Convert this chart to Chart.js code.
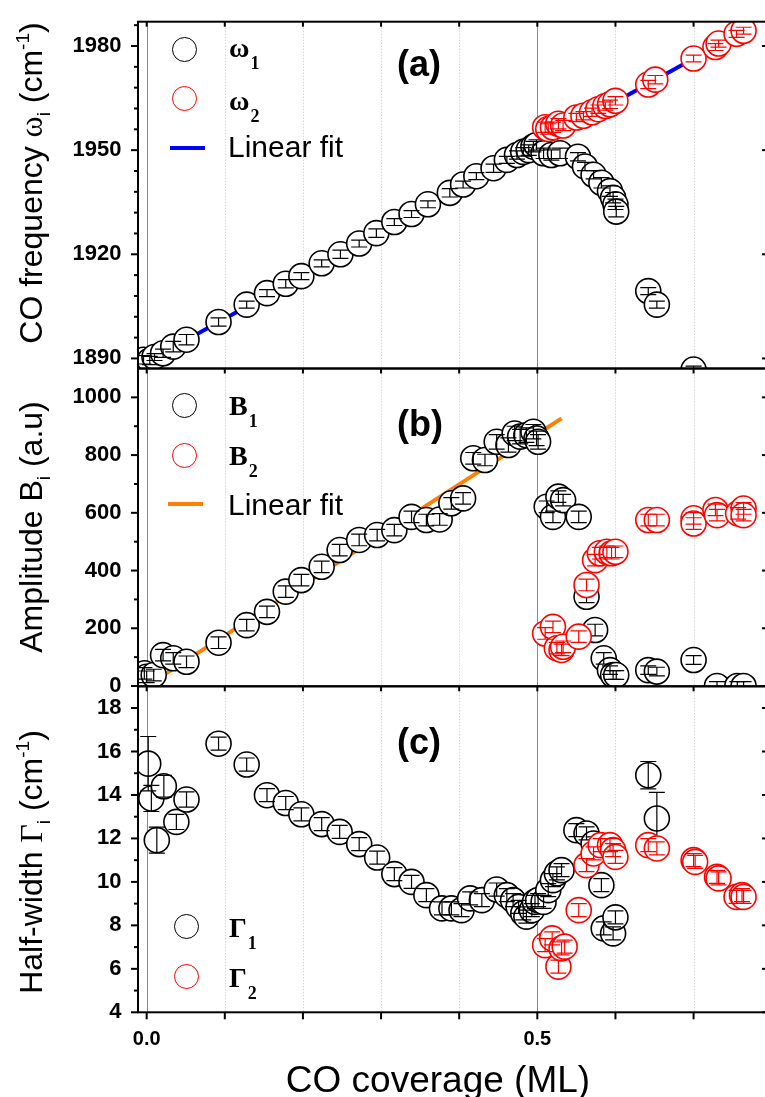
<!DOCTYPE html>
<html>
<head>
<meta charset="utf-8">
<script src="https://cdn.jsdelivr.net/npm/chart.js@4.4.1/dist/chart.umd.min.js"></script>
<style>
  body { margin: 0; background: #fff; overflow: hidden; }
  #wrap { position: relative; width: 765px; height: 1097px; overflow: hidden; }
  canvas { position: absolute; left: 0; top: 0; }
  .lbl { position: absolute; white-space: nowrap; line-height: 1; color: #000; z-index: 5;
         font-family: 'Liberation Sans', Arial, sans-serif; }
  .circ { position: absolute; width: 25px; height: 25px; box-sizing: border-box; border: 1.6px solid #000;
          border-radius: 50%; background: #fff; z-index: 5; }
  .circ.red { border-color: #ff0000; }
  .bar { position: absolute; height: 4px; width: 35px; z-index: 5; }
  .sym { font-family: 'Liberation Serif', 'DejaVu Serif', serif; font-weight: bold; font-size: 28px; }
  .sym .sb { font-size: 18px; position: relative; top: 12px; margin-left: 1px; }
  .big { font-size: 30px; }
  .panel { font-size: 36px; font-weight: bold; }
  .ytitle { font-size: 32px; transform: translate(-50%, -50%) rotate(-90deg); }
  .ytitle .g { font-family: 'Liberation Serif', 'DejaVu Serif', serif; }
  .ytitle .sb { font-size: 19px; position: relative; top: 8px; }
  .ytitle .sp { font-size: 19px; position: relative; top: -13px; }
  .xtitle { font-size: 37px; transform: translateX(-50%); }
</style>
</head>
<body>
<div id="wrap">
  <canvas id="chartA" width="768" height="1097"></canvas>
  <canvas id="chartB" width="768" height="1097"></canvas>
  <canvas id="chartC" width="768" height="1097"></canvas>

  <!-- panel (a) legend -->
  <div class="circ" style="left:172px;top:36.5px"></div>
  <div class="circ red" style="left:172px;top:86px"></div>
  <div class="bar" style="left:170px;top:146px;background:#0000ff"></div>
  <div class="lbl sym" style="left:229px;top:33.5px">ω<span class="sb">1</span></div>
  <div class="lbl sym" style="left:229px;top:86.5px">ω<span class="sb">2</span></div>
  <div class="lbl big" style="left:228px;top:131.5px">Linear fit</div>
  <div class="lbl panel" style="left:397px;top:45.5px">(a)</div>

  <!-- panel (b) legend -->
  <div class="circ" style="left:172px;top:392.5px"></div>
  <div class="circ red" style="left:172px;top:442.5px"></div>
  <div class="bar" style="left:168px;top:501.5px;background:#ff8000"></div>
  <div class="lbl sym" style="left:229px;top:391.5px">B<span class="sb">1</span></div>
  <div class="lbl sym" style="left:229px;top:441.5px">B<span class="sb">2</span></div>
  <div class="lbl big" style="left:228px;top:489.5px">Linear fit</div>
  <div class="lbl panel" style="left:397px;top:405.5px">(b)</div>

  <!-- panel (c) legend -->
  <div class="circ" style="left:174px;top:914px"></div>
  <div class="circ red" style="left:174px;top:964px"></div>
  <div class="lbl sym" style="left:229px;top:914px">Γ<span class="sb">1</span></div>
  <div class="lbl sym" style="left:229px;top:964px">Γ<span class="sb">2</span></div>
  <div class="lbl panel" style="left:397px;top:723.5px">(c)</div>

  <!-- axis titles -->
  <div class="lbl ytitle" style="left:31px;top:183px">CO frequency <span class="g">ω</span><span class="sb">i</span> (cm<span class="sp">-1</span>)</div>
  <div class="lbl ytitle" style="left:31px;top:527px">Amplitude B<span class="sb">i</span> (a.u)</div>
  <div class="lbl ytitle" style="left:31px;top:862px">Half-width <span class="g">Γ</span><span class="sb">i</span> (cm<span class="sp">-1</span>)</div>
  <div class="lbl xtitle" style="left:438px;top:1061px">CO coverage (ML)</div>
</div>

<script>
// shared x axis (CO coverage, ML)
const xTicks = [0, 0.1, 0.2, 0.3, 0.4, 0.5, 0.6, 0.7];
const xLabels = ['0.0', '', '', '', '', '0.5', '', ''];

// (a) CO frequency
const w1X = [-0.004, 0.004, 0.010, 0.021, 0.034, 0.051, 0.092, 0.128, 0.154, 0.178, 0.198, 0.224, 0.248, 0.272,
  0.294, 0.317, 0.339, 0.360, 0.388, 0.405, 0.422, 0.444, 0.461, 0.474, 0.482, 0.489, 0.495, 0.499,
  0.508, 0.518, 0.529, 0.552, 0.561, 0.572, 0.582, 0.593, 0.597, 0.600, 0.601, 0.642, 0.653, 0.700];
const w1Y = [1889.6, 1889.4, 1890.4, 1891.5, 1893.4, 1895.4, 1900.5, 1905.5, 1908.8, 1911.5, 1913.7, 1917.4, 1920.0, 1923.1,
  1926.1, 1929.3, 1931.6, 1934.4, 1937.7, 1940.1, 1942.5, 1944.8, 1947.2, 1948.6, 1949.5, 1950.0, 1951.0, 1951.5,
  1949.1, 1948.6, 1949.1, 1948.1, 1945.3, 1942.9, 1940.6, 1938.2, 1936.3, 1934.4, 1932.3, 1909.4, 1905.5, 1886.8];
const w1Err = [1.2, 1.2, 1.0, 1.2, 1.5, 1.5, 1.2, 1.0, 1.0, 1.2, 1.0, 1.0, 1.2, 1.0,
  1.2, 1.0, 1.0, 1.0, 1.2, 1.0, 1.0, 1.2, 1.0, 1.2, 1.2, 1.5, 1.5, 1.5,
  1.5, 1.5, 1.5, 1.2, 1.2, 1.2, 1.5, 1.5, 1.5, 1.5, 1.5, 1.0, 1.0, 1.0];
const w2X = [0.510, 0.514, 0.520, 0.527, 0.533, 0.550, 0.559, 0.570, 0.578, 0.587, 0.593, 0.600,
  0.642, 0.651, 0.700, 0.728, 0.732, 0.755, 0.764];
const w2Y = [1956.6, 1956.1, 1956.6, 1957.6, 1957.1, 1959.4, 1959.9, 1960.9, 1961.8, 1962.7, 1963.2, 1964.2,
  1968.9, 1970.3, 1976.4, 1979.7, 1980.7, 1983.5, 1984.4];
const w2Err = [1.5, 1.5, 1.5, 1.5, 1.5, 1.2, 1.2, 1.2, 1.2, 1.2, 1.2, 1.2, 1.2, 1.2, 1.0, 1.0, 1.0, 1.0, 1.0];
const fitAX = [0.0, 0.77];
const fitAY = [1889.0, 1985.1];
const freqMajor = [1890, 1920, 1950, 1980];

// (b) amplitude
const b1X = [-0.003, 0.000, 0.009, 0.021, 0.034, 0.051, 0.092, 0.128, 0.154, 0.178, 0.198, 0.224, 0.247, 0.272,
  0.295, 0.317, 0.339, 0.358, 0.375, 0.390, 0.405, 0.418, 0.433, 0.448, 0.463, 0.471, 0.478, 0.486,
  0.495, 0.499, 0.501, 0.512, 0.520, 0.527, 0.533, 0.553, 0.563, 0.574, 0.585, 0.593, 0.597, 0.601,
  0.642, 0.653, 0.700, 0.730, 0.756, 0.764];
const b1Y = [44, 32, 38, 107, 96, 84, 150, 211, 257, 327, 367, 413, 471, 506,
  523, 540, 586, 575, 577, 633, 650, 789, 783, 846, 835, 875, 864, 869,
  881, 858, 846, 621, 586, 656, 644, 586, 309, 194, 96, 55, 38, 38,
  55, 50, 90, 0, 0, 0];
const b1Err = [20, 20, 20, 20, 20, 20, 20, 20, 20, 20, 20, 20, 20, 20,
  20, 20, 20, 20, 20, 20, 20, 20, 20, 25, 25, 25, 25, 25,
  25, 25, 25, 20, 20, 20, 20, 20, 20, 20, 20, 15, 15, 15,
  15, 15, 15, 15, 15, 15];
const b2X = [0.510, 0.520, 0.525, 0.531, 0.533, 0.553, 0.563, 0.574, 0.580, 0.589, 0.595, 0.600,
  0.642, 0.653, 0.700, 0.700, 0.728, 0.730, 0.757, 0.764, 0.764];
const b2Y = [182, 205, 131, 125, 136, 171, 350, 436, 460, 465, 460, 465,
  575, 575, 581, 563, 610, 592, 598, 615, 592];
const b2Err = [20, 20, 20, 20, 20, 20, 20, 20, 20, 20, 20, 20, 20, 20, 20, 20, 20, 20, 20, 20, 20];
const fitBX = [0.010, 0.531];
const fitBY = [18, 927];
const ampMajor = [0, 200, 400, 600, 800, 1000];

// (c) half-width
const g1X = [0.002, 0.006, 0.013, 0.022, 0.038, 0.051, 0.092, 0.128, 0.154, 0.178, 0.198, 0.224, 0.247, 0.272,
  0.295, 0.317, 0.339, 0.358, 0.378, 0.390, 0.403, 0.414, 0.429, 0.448, 0.461, 0.469, 0.476, 0.482,
  0.486, 0.493, 0.497, 0.501, 0.508, 0.514, 0.520, 0.525, 0.531, 0.550, 0.563, 0.572, 0.582, 0.585,
  0.597, 0.600, 0.642, 0.653];
const g1Y = [15.44, 13.84, 11.92, 14.40, 12.76, 13.79, 16.36, 15.40, 13.99, 13.63, 13.11, 12.66, 12.30, 11.74,
  11.12, 10.36, 10.00, 9.39, 8.78, 8.78, 8.70, 9.24, 9.16, 9.65, 9.39, 9.16, 8.85, 8.55,
  8.40, 8.70, 9.08, 9.16, 9.08, 9.62, 10.08, 10.39, 10.54, 12.38, 12.23, 11.77, 9.85, 7.86,
  7.63, 8.37, 14.91, 12.92];
const g1Err = [1.25, 0.6, 0.6, 0.5, 0.35, 0.35, 0.3, 0.3, 0.3, 0.3, 0.3, 0.3, 0.3, 0.3,
  0.3, 0.3, 0.3, 0.3, 0.3, 0.3, 0.3, 0.3, 0.3, 0.3, 0.3, 0.3, 0.3, 0.3,
  0.3, 0.3, 0.3, 0.3, 0.3, 0.3, 0.3, 0.3, 0.3, 0.3, 0.3, 0.3, 0.3, 0.3,
  0.3, 0.3, 0.63, 1.2];
const g2X = [0.510, 0.519, 0.527, 0.531, 0.535, 0.553, 0.563, 0.572, 0.581, 0.593, 0.597, 0.600,
  0.642, 0.653, 0.700, 0.702, 0.730, 0.732, 0.755, 0.762, 0.764];
const g2Y = [7.09, 7.40, 6.10, 6.94, 7.02, 8.70, 10.77, 11.31, 11.69, 11.69, 11.46, 11.15,
  11.69, 11.54, 11.00, 10.92, 10.23, 10.16, 9.31, 9.39, 9.31];
const g2Err = [0.3, 0.3, 0.3, 0.3, 0.3, 0.3, 0.3, 0.3, 0.3, 0.3, 0.3, 0.3, 0.3, 0.3, 0.3, 0.3, 0.3, 0.3, 0.3, 0.3, 0.3];
const widthMajor = [4, 6, 8, 10, 12, 14, 16, 18];

const FONT = "'Liberation Sans', Arial, sans-serif";
const pts = (xs, ys) => xs.map((v, i) => ({ x: v, y: ys[i] }));

function minorTicks(majors, step, top) {
  const out = [];
  for (let v = majors[0]; v <= top + 1e-9; v += step) out.push(Math.round(v * 1000) / 1000);
  return out;
}

// dotted grid, frame and Origin-style ticks
const frame = {
  id: 'frame',
  beforeDatasetsDraw(chart) {
    const { ctx, chartArea: a, scales: { x } } = chart;
    ctx.save();
    ctx.lineWidth = 1;
    xTicks.forEach(v => {
      const px = Math.round(x.getPixelForValue(v)) + 0.5;
      const solid = v === 0 || v === 0.5;
      ctx.setLineDash(solid ? [] : [1, 2]);
      ctx.strokeStyle = solid ? '#8a8a8a' : '#c4c4c4';
      ctx.beginPath();
      ctx.moveTo(px, a.top);
      ctx.lineTo(px, a.bottom);
      ctx.stroke();
    });
    ctx.restore();
  },
  afterDraw(chart, args, opts) {
    const { ctx, chartArea: a, scales: { x, y } } = chart;
    const seg = (x0, y0, x1, y1) => { ctx.beginPath(); ctx.moveTo(x0, y0); ctx.lineTo(x1, y1); ctx.stroke(); };
    ctx.save();
    ctx.strokeStyle = '#000';
    ctx.lineWidth = 2;
    y.ticks.forEach(t => {
      const py = y.getPixelForValue(t.value);
      const major = opts.major.includes(t.value);
      seg(a.left - (major ? 7 : 4), py, a.left, py);
      if (major) seg(a.right - 4, py, a.right, py);
    });
    xTicks.forEach(v => {
      const px = x.getPixelForValue(v);
      seg(px, a.top, px, a.top + 5);
      if (opts.bottom) seg(px, a.bottom, px, a.bottom + 7);
    });
    ctx.strokeRect(a.left, a.top, a.right - a.left, a.bottom - a.top);
    ctx.restore();
  }
};

// vertical error bars with caps, drawn right after each dataset
const errorBars = {
  id: 'errorBars',
  afterDatasetDraw(chart, args) {
    const ds = chart.data.datasets[args.index];
    if (!ds.errors) return;
    const { ctx, chartArea: a, scales: { x, y } } = chart;
    ctx.save();
    ctx.beginPath();
    ctx.rect(a.left, a.top, a.right - a.left, a.bottom - a.top);
    ctx.clip();
    ctx.strokeStyle = ds.pointBorderColor;
    ctx.lineWidth = 1.2;
    ds.data.forEach((p, i) => {
      const px = x.getPixelForValue(p.x);
      const lo = y.getPixelForValue(p.y - ds.errors[i]);
      const hi = y.getPixelForValue(p.y + ds.errors[i]);
      ctx.beginPath();
      ctx.moveTo(px, lo); ctx.lineTo(px, hi);
      ctx.moveTo(px - 8, lo); ctx.lineTo(px + 8, lo);
      ctx.moveTo(px - 8, hi); ctx.lineTo(px + 8, hi);
      ctx.stroke();
    });
    ctx.restore();
  }
};

function markers(label, xs, ys, errs, color, order) {
  return {
    label, data: pts(xs, ys), errors: errs, order,
    pointRadius: 12.5, pointHoverRadius: 12.5, pointBorderWidth: 1.6,
    pointBorderColor: color, pointBackgroundColor: '#fff', showLine: false
  };
}

function fitLine(label, xs, ys, color) {
  return {
    label, data: pts(xs, ys), order: 3, showLine: true,
    borderColor: color, borderWidth: 4, pointRadius: 0
  };
}

function makeChart(id, cfg) {
  return new Chart(document.getElementById(id), {
    type: 'scatter',
    data: { datasets: cfg.datasets },
    options: {
      responsive: false,
      animation: false,
      devicePixelRatio: 1,
      layout: { autoPadding: false, padding: { left: 0, right: 2, top: cfg.top, bottom: cfg.bottom } },
      plugins: {
        legend: { display: false },
        tooltip: { enabled: false },
        frame: { major: cfg.major, bottom: cfg.showX }
      },
      scales: {
        x: {
          type: 'linear', min: -0.0111, max: 0.7927, display: cfg.showX,
          grid: { display: false }, border: { display: false },
          afterBuildTicks: ax => { ax.ticks = xTicks.map(v => ({ value: v })); },
          afterFit: ax => { if (cfg.showX) ax.height = 50; },
          ticks: {
            padding: 7, maxRotation: 0, autoSkip: false, color: '#000',
            font: { family: FONT, size: 20, weight: 'bold' },
            callback: (v, i) => xLabels[i]
          }
        },
        y: {
          type: 'linear', min: cfg.min, max: cfg.max,
          grid: { display: false }, border: { display: false },
          afterBuildTicks: ax => { ax.ticks = cfg.ticks.map(v => ({ value: v })); },
          afterFit: ax => { ax.width = 138; },
          ticks: {
            padding: 8.5, autoSkip: false, color: '#000',
            font: { family: FONT, size: 22, weight: 'bold' },
            callback: v => cfg.major.includes(v) ? String(v) : ''
          }
        }
      }
    },
    plugins: [frame, errorBars]
  });
}

makeChart('chartA', {
  top: 16, bottom: 728.5, min: 1887.1, max: 1987, showX: false,
  major: freqMajor, ticks: minorTicks(freqMajor, 6, 1986),
  datasets: [
    markers('ω2', w2X, w2Y, w2Err, '#ff0000', 1),
    markers('ω1', w1X, w1Y, w1Err, '#000000', 2),
    fitLine('Linear fit', fitAX, fitAY, '#0000ff')
  ]
});

makeChart('chartB', {
  top: 368.5, bottom: 410.7, min: -1, max: 1100, showX: false,
  major: ampMajor, ticks: minorTicks(ampMajor, 100, 1000),
  datasets: [
    markers('B2', b2X, b2Y, b2Err, '#ff0000', 1),
    markers('B1', b1X, b1Y, b1Err, '#000000', 2),
    fitLine('Linear fit', fitBX, fitBY, '#ff8000')
  ]
});

makeChart('chartC', {
  top: 686.3, bottom: 34.7, min: 4, max: 19, showX: true,
  major: widthMajor, ticks: minorTicks(widthMajor, 1, 18),
  datasets: [
    markers('Γ2', g2X, g2Y, g2Err, '#ff0000', 1),
    markers('Γ1', g1X, g1Y, g1Err, '#000000', 2)
  ]
});
</script>
</body>
</html>
